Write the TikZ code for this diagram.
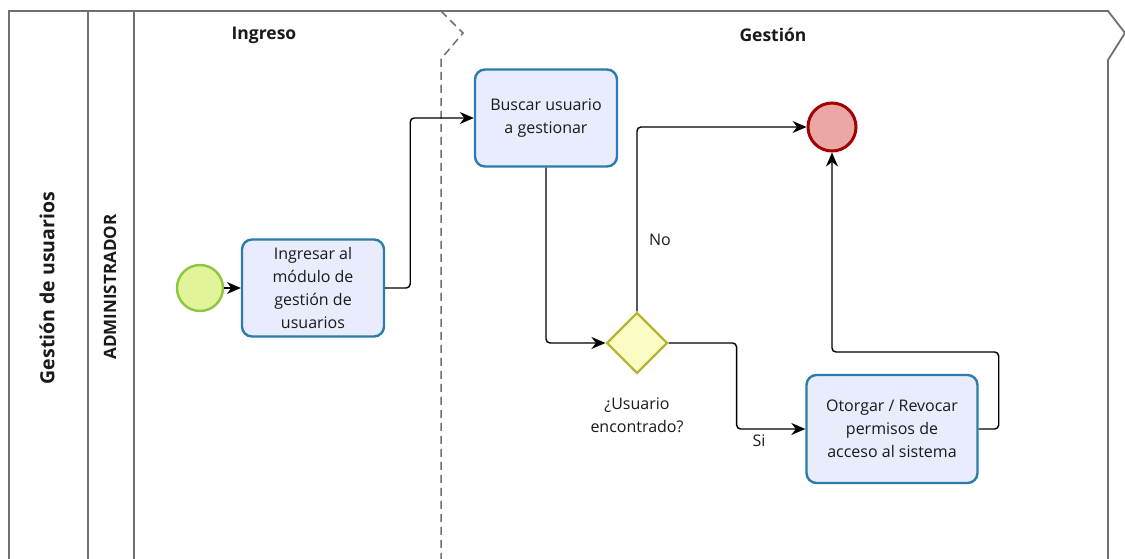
\documentclass[tikz,border=0pt]{standalone}
\usepackage{fontspec}
\setmainfont{Open Sans}
\usetikzlibrary{shapes.geometric,arrows.meta}

\definecolor{taskfill}{HTML}{E8ECFC}
\definecolor{taskdraw}{HTML}{2B7BAD}
\definecolor{startfill}{HTML}{E2F39A}
\definecolor{startdraw}{HTML}{8CC63E}
\definecolor{endfill}{HTML}{EBA6A6}
\definecolor{enddraw}{HTML}{A30000}
\definecolor{gwfill}{HTML}{FBFBC4}
\definecolor{gwdraw}{HTML}{B5B530}
\definecolor{framecol}{HTML}{707070}
\definecolor{txt}{HTML}{1A1A1A}

\tikzset{
  txtfont/.style={font=\fontsize{16}{23}\selectfont, text=txt},
  task/.style={draw=taskdraw, fill=taskfill, line width=2.4pt, rounded corners=10pt,
    align=center, inner sep=2pt, txtfont},
  startev/.style={circle, draw=startdraw, fill=startfill, line width=2.4pt,
    minimum size=46pt, inner sep=0pt},
  endev/.style={circle, draw=enddraw, fill=endfill, line width=3pt,
    minimum size=48pt, inner sep=0pt},
  gateway/.style={diamond, draw=gwdraw, fill=gwfill, line width=2.2pt,
    minimum width=61pt, minimum height=61pt, inner sep=0pt},
  flow/.style={draw=black, line width=1.4pt, rounded corners=4pt,
    -{Stealth[length=14pt,width=12pt]}},
  frame/.style={draw=framecol, line width=1.8pt},
  lanetitle/.style={font=\fontsize{17.5}{19}\bfseries\selectfont, text=txt},
  flowlabel/.style={txtfont, align=center},
}

\begin{document}
\begin{tikzpicture}[x=1pt, y=-1pt]
  \useasboundingbox (0,0) rectangle (1125,559);
  \fill[white] (0,0) rectangle (1125,559);

  % pool and lane frame
  \draw[frame] (9,559) -- (9,11) -- (1108,11) -- (1125,33);
  \draw[frame] (1125,33) -- (1108,60) -- (1108,559);
  \draw[frame] (88,11) -- (88,559);
  \draw[frame] (134,11) -- (134,559);
  \draw[frame, line width=1.5pt, dash pattern=on 8pt off 5pt]
    (441,11) -- (463,33) -- (441,59) -- (441,559);

  % pool, lane and phase titles
  \node[font=\fontsize{19.5}{21}\bfseries\selectfont, text=txt, rotate=90] (pool) at (47,288) {Gestión de usuarios};
  \node[font=\fontsize{17}{19}\bfseries\selectfont, text=txt, rotate=90] (lane) at (110,287) {ADMINISTRADOR};
  \node[lanetitle] (ph1) at (264,35) {Ingreso};
  \node[lanetitle] (ph2) at (773,35) {Gestión};

  % flow elements
  \node[startev] (start) at (200,288) {};
  \node[task, minimum width=142pt, minimum height=97pt] (t1) at (313,288)
    {Ingresar al\\módulo de\\gestión de\\usuarios};
  \node[task, minimum width=142pt, minimum height=97pt] (t2) at (546,118)
    {Buscar usuario\\a gestionar};
  \node[gateway] (gw) at (637,343) {};
  \node[flowlabel] (gwlabel) at (637,415) {¿Usuario\\encontrado?};
  \node[task, minimum width=171pt, minimum height=108pt] (t3) at (892,429)
    {Otorgar / Revocar\\permisos de\\acceso al sistema};
  \node[endev] (end) at (832,127) {};

  % sequence flows
  \draw[flow] (start) -- (t1);
  \draw[flow] (t1.east) -- ++(25,0) |- (t2.west);
  \draw[flow] (t2.south) |- (gw.west);
  \draw[flow] (gw.north) |- (end.west);
  \draw[flow] (gw.east) -- ++(68,0) |- (t3.west);
  \draw[flow] (t3.east) -- ++(20,0) -- ++(0,-77) -| (end.south);

  \node[flowlabel] (lno) at (660,240) {No};
  \node[flowlabel] (lsi) at (759,441) {Si};
\end{tikzpicture}
\end{document}
